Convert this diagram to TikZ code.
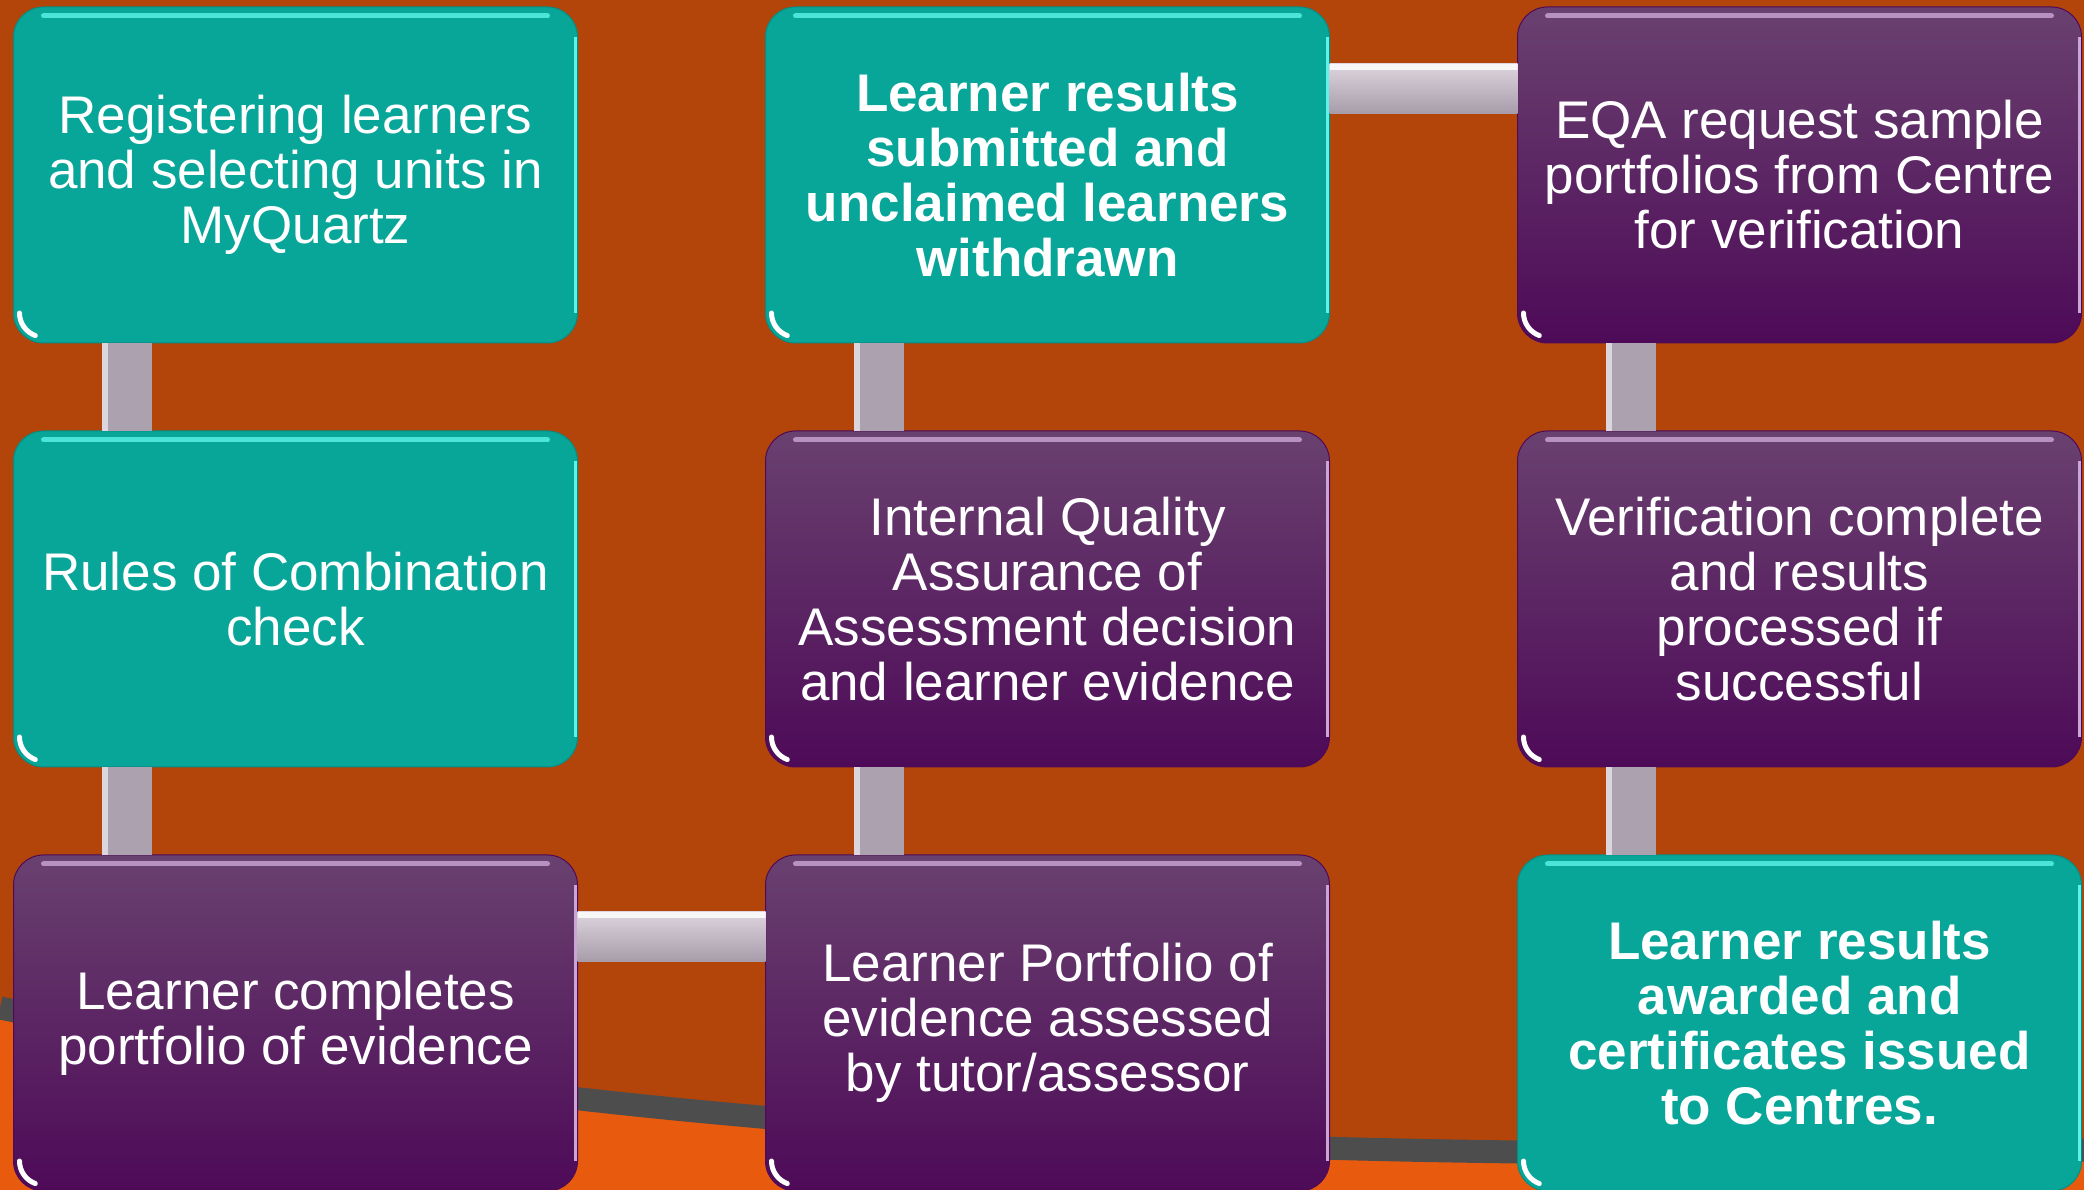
\documentclass[tikz,border=0pt]{standalone}
\usepackage{fontspec}
\setmainfont{Liberation Sans}
\usetikzlibrary{positioning}

\definecolor{bgdark}{HTML}{B3450A}
\definecolor{bglight}{HTML}{E85B0E}
\definecolor{swoosh}{HTML}{4D4D4D}
\definecolor{tealbox}{HTML}{08A599}
\definecolor{tealshine}{HTML}{5EF3EA}
\definecolor{purptop}{HTML}{69416F}
\definecolor{purpbot}{HTML}{4E0A58}
\definecolor{purpshine}{HTML}{CBA6D4}
\definecolor{barlight}{HTML}{DDD5DE}
\definecolor{bardark}{HTML}{A79BA9}
\definecolor{barmid}{HTML}{ACA1AE}

% glossy edges of a box
\newcommand{\shine}[2]{%
	\draw[#2, line width=5pt, line cap=round, opacity=.8] ([xshift=30pt, yshift=-9pt]#1.north west) -- ([xshift=-30pt, yshift=-9pt]#1.north east);
	\draw[#2, line width=3pt] ([xshift=-2pt, yshift=-30pt]#1.north east) -- ([xshift=-2pt, yshift=30pt]#1.south east);
	\draw[white, line width=5pt, line cap=round] ([xshift=6pt, yshift=30pt]#1.south west) arc[start angle=180, end angle=250, radius=24pt];
}

\begin{document}
\begin{tikzpicture}[x=1pt, y=1pt, node distance=88pt and 188pt,
		box/.style={rectangle, rounded corners=30pt, minimum width=564pt, minimum height=336pt, inner sep=0pt, outer sep=0pt, align=center, text=white, font=\fontsize{53}{55}\selectfont},
		tealstep/.style={box, fill=tealbox, draw=tealbox!85!black, line width=1pt},
		purpstep/.style={box, top color=purptop, bottom color=purpbot, draw=purpbot, line width=1pt},
		vbar/.style={fill=barmid, path picture={\fill[barlight] (path picture bounding box.south west) rectangle ([xshift=6pt]path picture bounding box.north west);}},
		hbar/.style={top color=barlight, bottom color=bardark, path picture={\fill[white!80!barlight] (path picture bounding box.north west) rectangle ([yshift=-6pt]path picture bounding box.north east);}}]

		\useasboundingbox (0,0) rectangle (2084,1190);

		% Background
		\fill[bgdark] (0,0) rectangle (2084,1190);
		\fill[bglight] (0,182) .. controls (600,60) and (1200,25) .. (2084,40) -- (2084,0) -- (0,0) -- cycle;
		\draw[swoosh, line width=23pt] (0,182) .. controls (600,60) and (1200,25) .. (2084,40);

		% Centre
		\begin{scope}
			\node (register) at (295.5,1015) [tealstep] {Registering learners\\and selecting units in\\MyQuartz};
			\node (rules) [tealstep, below = of register] {Rules of Combination\\check};
			\node (completes) [purpstep, below = of rules] {Learner completes\\portfolio of evidence};
		\end{scope}

		% Assessment
		\begin{scope}
			\node (assessed) [purpstep, right = of completes] {Learner Portfolio of\\evidence assessed\\by tutor/assessor};
			\node (iqa) [purpstep, above = of assessed] {Internal Quality\\Assurance of\\Assessment decision\\and learner evidence};
			\node (submitted) [tealstep, above = of iqa] {\bfseries Learner results\\\bfseries submitted and\\\bfseries unclaimed learners\\\bfseries withdrawn};
		\end{scope}

		% EQA
		\begin{scope}
			\node (eqa) [purpstep, right = of submitted] {EQA request sample\\portfolios from Centre\\for verification};
			\node (verified) [purpstep, below = of eqa] {Verification complete\\and results\\processed if\\successful};
			\node (awarded) [tealstep, below = of verified] {\bfseries Learner results\\\bfseries awarded and\\\bfseries certificates issued\\\bfseries to Centres.};
		\end{scope}

		\shine{register}{tealshine}
		\shine{rules}{tealshine}
		\shine{submitted}{tealshine}
		\shine{awarded}{tealshine}
		\shine{completes}{purpshine}
		\shine{assessed}{purpshine}
		\shine{iqa}{purpshine}
		\shine{eqa}{purpshine}
		\shine{verified}{purpshine}

		% Links
		\fill[vbar] ([xshift=88pt]register.south west) rectangle ([xshift=138pt]rules.north west);
		\fill[vbar] ([xshift=88pt]rules.south west) rectangle ([xshift=138pt]completes.north west);
		\fill[hbar] ([yshift=-57pt]completes.north east) rectangle ([yshift=-107pt]assessed.north west);
		\fill[vbar] ([xshift=88pt]iqa.south west) rectangle ([xshift=138pt]assessed.north west);
		\fill[vbar] ([xshift=88pt]submitted.south west) rectangle ([xshift=138pt]iqa.north west);
		\fill[hbar] ([yshift=-57pt]submitted.north east) rectangle ([yshift=-107pt]eqa.north west);
		\fill[vbar] ([xshift=88pt]eqa.south west) rectangle ([xshift=138pt]verified.north west);
		\fill[vbar] ([xshift=88pt]verified.south west) rectangle ([xshift=138pt]awarded.north west);

	\end{tikzpicture}
\end{document}
